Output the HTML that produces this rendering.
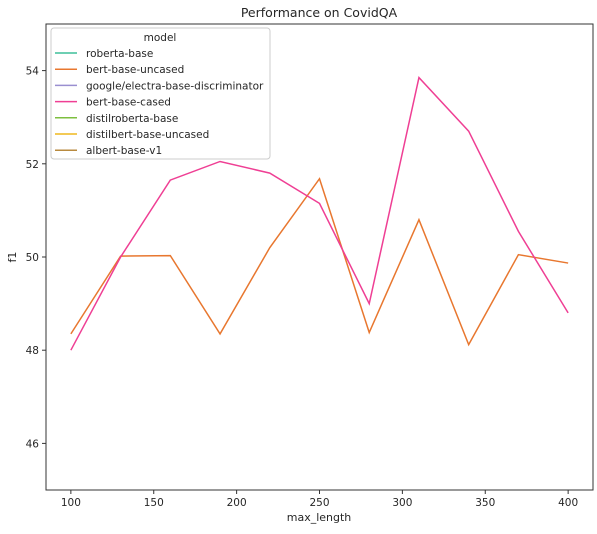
<!DOCTYPE html>
<html><head><meta charset="utf-8"><style>
body{margin:0;background:#fff;font-family:"Liberation Sans","DejaVu Sans",sans-serif;}
svg text{font-family:"DejaVu Sans","Liberation Sans",sans-serif;fill:#262626;}
</style></head><body>
<svg id="chart" width="597" height="529" xmlns="http://www.w3.org/2000/svg">
<text x="319" y="17" text-anchor="middle" font-size="12.5">Performance on CovidQA</text>
<rect x="46" y="24" width="547" height="466" fill="#fff" stroke="#333" stroke-width="1"/>
<g id="yticks"></g><g id="xticks"></g><g id="lines"></g>
<text x="319" y="521" text-anchor="middle" font-size="11">max_length</text>
<text transform="translate(16,257) rotate(-90)" text-anchor="middle" font-size="11">f1</text>
<g id="legend"></g>
</svg>
<script>
const xValues=[100,130,160,190,220,250,280,310,340,370,400];
const bertCased=[48.0,50.0,51.65,52.05,51.8,51.15,49.0,53.85,52.7,50.55,48.8];
const bertUncased=[48.35,50.02,50.03,48.35,50.2,51.68,48.38,50.8,48.12,50.05,49.87];
const xTicks=[100,150,200,250,300,350,400];
const yTicks=[46,48,50,52,54];
const legendNames=["roberta-base","bert-base-uncased","google/electra-base-discriminator","bert-base-cased","distilroberta-base","distilbert-base-uncased","albert-base-v1"];
const legendColors=["#3fbf9a","#e8772f","#9a8fd0","#ef3f94","#7dbf3f","#efb81f","#b88a3f"];
const NS="http://www.w3.org/2000/svg";
const L=46,R=593,T=24,B=490;
const xs=v=>L+(v-85)/(415-85)*(R-L);
const ys=v=>B-(v-45)/(55-45)*(B-T);
function mk(tag,attrs,parent){const e=document.createElementNS(NS,tag);for(const k in attrs)e.setAttribute(k,attrs[k]);parent.appendChild(e);return e;}
const yg=document.getElementById('yticks');
yTicks.forEach(t=>{const y=ys(t);
const l=mk('line',{x1:L-4,x2:L,y1:y,y2:y,stroke:'#333'},yg);


const tx=mk('text',{x:L-7,y:y+4,'text-anchor':'end','font-size':'10.5'},yg);tx.textContent=t;

});
const xg=document.getElementById('xticks');
xTicks.forEach(t=>{const x=xs(t);
const l=mk('line',{x1:x,x2:x,y1:B,y2:B+4,stroke:'#333'},xg);


const tx=mk('text',{x:x,y:B+16,'text-anchor':'middle','font-size':'10.5'},xg);tx.textContent=t;

});
const lg=document.getElementById('lines');
function series(vals,color,name){const p=mk('polyline',{points:vals.map((v,i)=>xs(xValues[i])+','+ys(v)).join(' '),fill:'none',stroke:color,'stroke-width':1.5},lg);

}
series(bertUncased,'#e8772f','line-bert-base-uncased');
series(bertCased,'#ef3f94','line-bert-base-cased');
const leg=document.getElementById('legend');
mk('rect',{x:51,y:28,width:219,height:131,rx:3,fill:'#fff','fill-opacity':0.85,stroke:'#ccc'},leg);
const lt=mk('text',{x:160,y:41,'text-anchor':'middle','font-size':'10.5'},leg);lt.textContent='model';
legendNames.forEach((n,i)=>{const y=53+i*16.2;
const ln=mk('line',{x1:55,x2:77,y1:y,y2:y,stroke:legendColors[i],'stroke-width':1.5},leg);


const t=mk('text',{x:86,y:y+4,'font-size':'10.5'},leg);t.textContent=n;

});
</script>
</body></html>
